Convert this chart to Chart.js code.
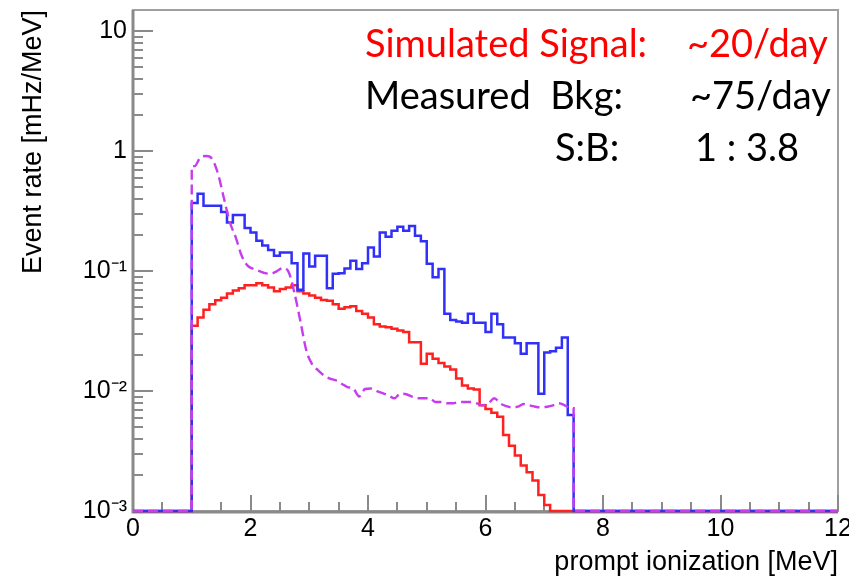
<!DOCTYPE html>
<html>
<head>
<meta charset="utf-8">
<script src="https://cdn.jsdelivr.net/npm/chart.js@4.4.1/dist/chart.umd.min.js"></script>
<style>
  html, body { margin: 0; padding: 0; background: #fff; }
  canvas { display: block; }
</style>
</head>
<body>
<canvas id="chart" width="849" height="579"></canvas>
<script>
// --- binning (MeV) ---
const binStart = 1.0;
const binWidth = 0.1;
const xMin = 0, xMax = 12;
const yMin = 1e-3, yMax = 15;

// --- tick labels ---
const xTicks = [0, 2, 4, 6, 8, 10, 12];
const yTicks = [1e-3, 1e-2, 1e-1, 1, 10];
const yTickLabels = ['10\u207B\u00B3', '10\u207B\u00B2', '10\u207B\u00B9', '1', '10'];

// --- series, one value per 0.1 MeV bin from 1.0 to 7.5 MeV (mHz/MeV), 0 = empty bin ---
const measuredBkg = [
  0.37, 0.44, 0.35, 0.35, 0.35, 0.31, 0.254, 0.294, 0.294, 0.228,
  0.21, 0.179, 0.163, 0.150, 0.134, 0.143, 0.143, 0.116, 0.070, 0.14,
  0.109, 0.134, 0.134, 0.072, 0.095, 0.096, 0.105, 0.122, 0.104, 0.116,
  0.157, 0.132, 0.21, 0.193, 0.217, 0.234, 0.217, 0.238, 0.197, 0.177,
  0.115, 0.089, 0.104, 0.044, 0.039, 0.038, 0.037, 0.044, 0.037, 0.037,
  0.031, 0.044, 0.036, 0.028, 0.028, 0.025, 0.0205, 0.025, 0.025, 0.0095,
  0.021, 0.0215, 0.023, 0.028, 0.0063
];
const simSignal = [
  0.035, 0.041, 0.0475, 0.053, 0.057, 0.060, 0.065, 0.069, 0.072, 0.076,
  0.076, 0.079, 0.076, 0.073, 0.068, 0.071, 0.073, 0.076, 0.068, 0.065,
  0.0625, 0.060, 0.0575, 0.0565, 0.053, 0.0485, 0.050, 0.051, 0.0465, 0.044,
  0.041, 0.036, 0.0345, 0.034, 0.033, 0.032, 0.031, 0.0255, 0.0255, 0.0169,
  0.0205, 0.0186, 0.0171, 0.016, 0.0151, 0.0127, 0.0111, 0.0105, 0.0103, 0.0076,
  0.0071, 0.0066, 0.0061, 0.0043, 0.0035, 0.0029, 0.0024, 0.0021, 0.0018, 0.00136,
  0.00112, 0, 0, 0, 0
];
const bkgModel = [
  0.75, 0.89, 0.91, 0.855, 0.64, 0.40, 0.254, 0.19, 0.134, 0.111,
  0.104, 0.100, 0.096, 0.095, 0.100, 0.106, 0.098, 0.065, 0.038, 0.0218,
  0.0167, 0.0149, 0.0135, 0.0127, 0.0123, 0.0115, 0.0108, 0.0105, 0.0090, 0.0104,
  0.0105, 0.0100, 0.0096, 0.0092, 0.0087, 0.0095, 0.0094, 0.0090, 0.0087, 0.0087,
  0.0087, 0.0081, 0.0081, 0.0079, 0.0079, 0.0081, 0.0081, 0.0081, 0.0079, 0.0076,
  0.0079, 0.0087, 0.0079, 0.0075, 0.0073, 0.0074, 0.0078, 0.0076, 0.0074, 0.0073,
  0.0074, 0.0076, 0.0079, 0.0076, 0.0072
];

// histogram as step line: left bin edges, empty bins sit on the axis floor
function stepPoints(vals) {
  const pts = [{x: xMin, y: yMin}];
  vals.forEach((v, i) => pts.push({x: +(binStart + i * binWidth).toFixed(2), y: v > 0 ? v : yMin}));
  const end = +(binStart + vals.length * binWidth).toFixed(2);
  pts.push({x: end, y: yMin});
  pts.push({x: xMax, y: yMin});
  return pts;
}
// curve through bin centres, with vertical edges at both ends
function curvePoints(vals) {
  const pts = [{x: xMin, y: yMin}, {x: binStart, y: yMin}, {x: binStart, y: vals[0]}];
  vals.forEach((v, i) => pts.push({x: +(binStart + (i + 0.5) * binWidth).toFixed(3), y: v > 0 ? v : yMin}));
  const end = +(binStart + vals.length * binWidth).toFixed(2);
  pts.push({x: end, y: vals[vals.length - 1]});
  pts.push({x: end, y: yMin});
  pts.push({x: xMax, y: yMin});
  return pts;
}

// --- ROOT-like frame and inner ticks ---
const rootFrame = {
  id: 'rootFrame',
  beforeDatasetsDraw(chart) {
    const {ctx, chartArea: a, scales: {x, y}} = chart;
    ctx.save();
    ctx.strokeStyle = '#a0a0a0';
    ctx.lineWidth = 2;
    ctx.strokeRect(a.left, a.top, a.right - a.left, a.bottom - a.top);
    ctx.strokeStyle = '#8a8a8a';
    ctx.lineWidth = 3;
    ctx.beginPath();
    ctx.moveTo(a.left, a.top); ctx.lineTo(a.left, a.bottom + 1); ctx.lineTo(a.right, a.bottom + 1);
    ctx.stroke();
    // y ticks (log)
    ctx.lineWidth = 2;
    for (let d = -3; d <= 1; d++) {
      for (let m = 1; m <= 9; m++) {
        const v = m * Math.pow(10, d);
        if (v > yMax) break;
        const py = Math.round(y.getPixelForValue(v));
        const len = m === 1 ? 20 : 10;
        ctx.beginPath(); ctx.moveTo(a.left, py); ctx.lineTo(a.left + len, py); ctx.stroke();
      }
    }
    // x ticks
    for (let i = 0; i <= 24; i++) {
      const v = i * 0.5;
      const px = Math.round(x.getPixelForValue(v));
      const len = i % 4 === 0 ? 16 : 9;
      ctx.beginPath(); ctx.moveTo(px, a.bottom); ctx.lineTo(px, a.bottom - len); ctx.stroke();
    }
    ctx.restore();
  }
};

// --- rate summary text ---
const summary = {
  id: 'summary',
  afterDraw(chart) {
    const ctx = chart.ctx;
    ctx.save();
    ctx.font = '38px Lato';
    ctx.textBaseline = 'alphabetic';
    ctx.textAlign = 'left';
    ctx.fillStyle = '#ff0000';
    ctx.fillText('Simulated Signal:', 365, 57);
    ctx.fillText('~20/day', 687, 57);
    ctx.fillStyle = '#000000';
    ctx.fillText('Measured  Bkg:', 365, 109);
    ctx.fillText('~75/day', 690, 109);
    ctx.fillText('S:B:', 555, 161);
    ctx.fillText('1 : 3.8', 695, 161);
    ctx.restore();
  }
};

const tickFont = {family: '"Liberation Sans", Arial, sans-serif', size: 25};
const titleFont = {family: '"Liberation Sans", Arial, sans-serif', size: 27};

new Chart(document.getElementById('chart').getContext('2d'), {
  type: 'line',
  data: {
    datasets: [
      {label: 'bkg model', data: curvePoints(bkgModel), borderColor: '#c83cf0', borderWidth: 2.4,
       borderDash: [10, 5], pointRadius: 0, cubicInterpolationMode: 'monotone', fill: false,
       clip: {left: 0, top: 0, right: 0, bottom: 4}},
      {label: 'measured bkg', data: stepPoints(measuredBkg), borderColor: '#3030f8', borderWidth: 2.5,
       stepped: 'before', pointRadius: 0, fill: false, clip: {left: 0, top: 0, right: 0, bottom: 4}},
      {label: 'simulated signal', data: stepPoints(simSignal), borderColor: '#ff2020', borderWidth: 2.5,
       stepped: 'before', pointRadius: 0, fill: false, clip: {left: 0, top: 0, right: 0, bottom: 4}}
    ]
  },
  options: {
    responsive: false,
    animation: false,
    layout: {padding: {left: 0, top: 10, right: 11, bottom: 0}},
    plugins: {legend: {display: false}, tooltip: {enabled: false}},
    scales: {
      x: {
        type: 'linear', min: xMin, max: xMax,
        grid: {display: false, drawTicks: false},
        border: {display: false},
        afterBuildTicks: s => { s.ticks = xTicks.map(v => ({value: v})); },
        afterFit: s => { s.height = 68; s.paddingLeft = 0; s.paddingRight = 0; },
        ticks: {color: '#000', font: tickFont, padding: 3, maxRotation: 0, callback: v => String(v)},
        title: {display: true, text: 'prompt ionization [MeV]', align: 'end', color: '#000',
                font: titleFont, padding: {top: 1, bottom: 0}}
      },
      y: {
        type: 'logarithmic', min: yMin, max: yMax,
        grid: {display: false, drawTicks: false},
        border: {display: false},
        afterBuildTicks: s => { s.ticks = yTicks.map(v => ({value: v})); },
        afterFit: s => { s.width = 133; s.paddingTop = 0; s.paddingBottom = 0; },
        ticks: {color: '#000', font: tickFont, padding: 6,
                callback: (v) => { const i = yTicks.findIndex(t => Math.abs(t - v) / t < 1e-6); return i >= 0 ? yTickLabels[i] : ''; }},
        title: {display: true, text: 'Event rate [mHz/MeV]', align: 'end', color: '#000',
                font: titleFont, padding: {top: 17, bottom: 0}}
      }
    }
  },
  plugins: [rootFrame, summary]
});
</script>
</body>
</html>
